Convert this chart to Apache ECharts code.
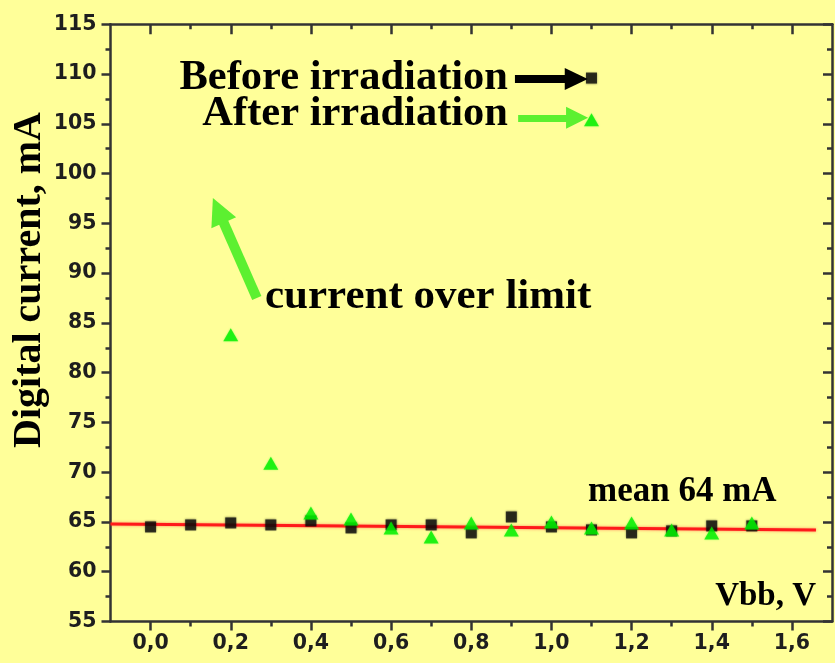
<!DOCTYPE html>
<html><head><meta charset="utf-8">
<script src="https://cdn.jsdelivr.net/npm/echarts@6/dist/echarts.min.js"></script>
<style>html,body{margin:0;padding:0;background:#FFFF99;} #c{width:835px;height:663px;}</style>
</head><body><div id="c"></div>
<script>
// ---- data ----
const vbbBefore = [0.0,0.1,0.2,0.3,0.4,0.5,0.6,0.7,0.8,0.9,1.0,1.1,1.2,1.3,1.4,1.5];
const currentBefore = [64.5,64.7,64.9,64.7,65.1,64.4,64.7,64.7,63.9,65.5,64.5,64.2,63.9,64.1,64.6,64.6];
const vbbAfter = [0.2,0.3,0.4,0.5,0.6,0.7,0.8,0.9,1.0,1.1,1.2,1.3,1.4,1.5];
const currentAfter = [83.8,70.9,65.9,65.3,64.4,63.5,64.9,64.2,65.0,64.4,64.9,64.2,63.9,64.9];
const meanFitX = [-0.1,1.66];
const meanFitY = [64.8,64.2];
const xMajorTicks = [0.0,0.2,0.4,0.6,0.8,1.0,1.2,1.4,1.6];
const xMinorTicks = [0.1,0.3,0.5,0.7,0.9,1.1,1.3,1.5];
const legendMarkerBefore = [1.1,109.6];
const legendMarkerAfter = [1.1,105.4];
const arrowBefore = [[0.909,109.5],[1.062,109.5]];
const arrowAfter = [[0.917,105.6],[1.064,105.6]];
const arrowOverLimit = [[0.265,87.5],[0.169,96.3]];

const labelFont = {fontFamily:'"DejaVu Sans", Verdana, sans-serif', fontWeight:'bold', fontSize:20.5, color:'#1e1e1e'};
const axisCol = '#333';
const fmtX = v => Number(v).toFixed(1).replace('.', ',');

function xAx(pos, ticks, len, inside, showLabel, showLine){
  return {type:'value', position:pos, min:-0.1, max:1.7, gridIndex:0,
    axisLine:{show:showLine, onZero:false, lineStyle:{color:axisCol,width:2.5}},
    axisTick:{show:true, inside:inside, length:len, customValues:ticks, lineStyle:{color:axisCol,width:2.5}},
    axisLabel:{show:showLabel, customValues:xMajorTicks, formatter:fmtX, margin:12, ...labelFont},
    splitLine:{show:false}};
}
function yAx(pos, inside, showLabel){
  return {type:'value', position:pos, min:55, max:115, interval:5,
    axisLine:{show:true, onZero:false, lineStyle:{color:axisCol,width:2.5}},
    axisTick:{show:true, inside:inside, length:9, lineStyle:{color:axisCol,width:2.5}},
    minorTick:{show:true, splitNumber:2, length:5, lineStyle:{color:axisCol,width:2.5}},
    axisLabel:{show:showLabel, margin:14, ...labelFont},
    splitLine:{show:false}, minorSplitLine:{show:false}};
}

const serif = '"Liberation Serif", "Times New Roman", serif';
function txt(text, x, y, size, align){
  return {type:'text', x:x, y:y, style:{text:text, fontFamily:serif, fontWeight:'bold', fontSize:size, fill:'#000', align:align, verticalAlign:'middle'}};
}

const chart = echarts.init(document.getElementById('c'), null, {renderer:'canvas'});
chart.setOption({
  backgroundColor:'#FFFF99',
  animation:false,
  grid:{left:110.5, right:3, top:24.3, bottom:41.5, containLabel:false},
  xAxis:[
    xAx('bottom', xMajorTicks, 9, false, true, true),
    xAx('bottom', xMinorTicks, 5, false, false, false),
    xAx('top', xMajorTicks, 10, true, false, true),
    xAx('top', xMinorTicks, 5, true, false, false)
  ],
  yAxis:[ yAx('left', false, true), yAx('right', true, false) ],
  series:[
    {type:'line', data:meanFitX.map((x,i)=>[x,meanFitY[i]]), symbol:'none', z:1,
     lineStyle:{color:'#ff1a1a', width:3, shadowBlur:3, shadowColor:'rgba(255,60,60,0.6)'}},
    {type:'scatter', data:vbbBefore.map((x,i)=>[x,currentBefore[i]]).concat([legendMarkerBefore]),
     symbol:'rect', symbolSize:11, itemStyle:{color:'#0a0a0a', shadowBlur:2, shadowColor:'rgba(0,0,0,0.5)'}, z:3},
    {type:'scatter', data:vbbAfter.map((x,i)=>[x,currentAfter[i]]).concat([legendMarkerAfter]),
     symbol:'triangle', symbolSize:[15,13], itemStyle:{color:'#00ee00', shadowBlur:2, shadowColor:'rgba(0,255,0,0.5)'}, z:4},
    {type:'scatter', data:[], silent:true,
     markLine:{silent:true, animation:false, symbol:['none','triangle'], label:{show:false},
       data:[
         [{coord:arrowBefore[0], symbol:'none'},{coord:arrowBefore[1], symbol:'triangle', symbolSize:[22,23], lineStyle:{color:'#000',width:8,type:'solid'}, itemStyle:{color:'#000'}}],
         [{coord:arrowAfter[0], symbol:'none'},{coord:arrowAfter[1], symbol:'triangle', symbolSize:[22,22], lineStyle:{color:'#5cf030',width:7,type:'solid'}, itemStyle:{color:'#5cf030'}}],
         [{coord:arrowOverLimit[0], symbol:'none'},{coord:arrowOverLimit[1], symbol:'triangle', symbolSize:[27,27], lineStyle:{color:'#5cf030',width:10,type:'solid'}, itemStyle:{color:'#5cf030'}}]
       ]}}
  ],
  graphic:[
    txt('Before irradiation', 508, 78, 42.5, 'right'),
    txt('After irradiation', 508, 114, 42.5, 'right'),
    txt('current over limit', 265, 297, 43, 'left'),
    txt('mean 64 mA', 588, 492, 35, 'left'),
    txt('Vbb, V', 816, 596, 33, 'right'),
    {type:'text', x:30, y:280, rotation:Math.PI/2,
     style:{text:'Digital current, mA', fontFamily:serif, fontWeight:'bold', fontSize:40, fill:'#000', align:'center', verticalAlign:'middle'}}
  ]
});
</script></body></html>
